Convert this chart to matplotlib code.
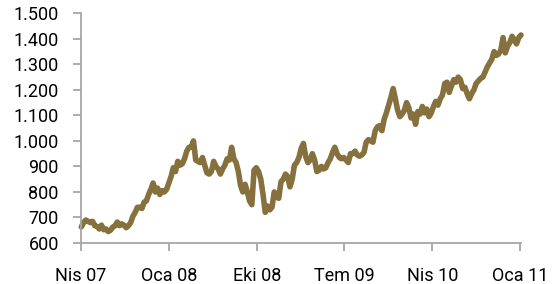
import matplotlib
matplotlib.use("Agg")
import matplotlib.dates as mdates
import matplotlib.pyplot as plt
import pandas as pd
from matplotlib.ticker import FuncFormatter, MultipleLocator

# weekly values (Monday)
gold_2007 = [663, 680, 690, 685, 680,
             685, 668, 665, 655,
             670, 652, 655, 645,
             650, 662, 667, 682, 668,
             675, 670, 660, 668,
             680, 705, 720, 740,
             740, 735, 760, 765, 790,
             810, 835, 800, 815,
             790, 805, 800, 810, 835]
gold_2008 = [860, 895, 880, 920,
             905, 910, 930, 960,
             975, 975, 1000, 925, 920,
             915, 935, 905, 875,
             870, 880, 920, 900,
             890, 870, 890, 905, 930,
             925, 975, 930, 915,
             880, 825, 800, 830,
             800, 765, 750, 885, 895,
             880, 850, 790, 720,
             745, 730, 740, 800,
             780, 775, 840, 850, 870]
gold_2009 = [860, 820, 850, 905,
             915, 935, 970, 990,
             940, 915, 925, 950, 925,
             880, 885, 900, 890,
             895, 915, 930, 955,
             975, 950, 935, 930, 935,
             925, 915, 950, 950,
             960, 945, 940, 945, 955,
             995, 1005, 1000, 995,
             1040, 1055, 1060, 1040,
             1085, 1110, 1140, 1170, 1205,
             1165, 1120, 1095, 1105]
gold_2010 = [1120, 1150, 1130, 1090,
             1105, 1065, 1115, 1105,
             1135, 1110, 1125, 1095, 1110,
             1135, 1155, 1140, 1165,
             1180, 1225, 1230, 1190, 1215,
             1240, 1230, 1250, 1240,
             1205, 1210, 1185, 1165,
             1185, 1200, 1225, 1235, 1245,
             1250, 1270, 1290, 1305,
             1320, 1350, 1335, 1340,
             1355, 1405, 1345, 1370, 1385,
             1410, 1395, 1380, 1405,
             1415]

gold = gold_2007 + gold_2008 + gold_2009 + gold_2010
dates = pd.date_range("2007-04-02", periods=len(gold), freq="7D")

tick_dates = pd.to_datetime(["2007-04-01", "2008-01-01", "2008-10-01",
                             "2009-07-01", "2010-04-01", "2011-01-01"])
tick_labels = ["Nis 07", "Oca 08", "Eki 08", "Tem 09", "Nis 10", "Oca 11"]

plt.rcParams["font.family"] = ["Roboto", "DejaVu Sans"]

fig = plt.figure(figsize=(5.53, 2.84), dpi=100)
ax = fig.add_axes([81 / 553, 1 - 243 / 284, 440 / 553, 229.7 / 284])

ax.plot(dates, gold, color="#85703e", lw=4.0, solid_joinstyle="round",
        solid_capstyle="round", clip_on=False)

ax.set_ylim(600, 1500)
ax.yaxis.set_major_locator(MultipleLocator(100))
ax.yaxis.set_major_formatter(FuncFormatter(lambda v, p: f"{v:,.0f}".replace(",", ".")))
ax.set_xlim(mdates.date2num(tick_dates[0]), mdates.date2num(pd.Timestamp("2011-01-03")))
ax.set_xticks(mdates.date2num(tick_dates))
ax.set_xticklabels(tick_labels)

for side in ["top", "right"]:
    ax.spines[side].set_visible(False)
for side in ["left", "bottom"]:
    ax.spines[side].set_color("#a6a6a6")
    ax.spines[side].set_linewidth(1.3)

ax.tick_params(axis="both", colors="#a6a6a6", width=1.3, length=5.5,
               labelcolor="black", labelsize=13)
ax.tick_params(axis="y", pad=10.5)
ax.tick_params(axis="x", pad=12)

fig.savefig("out.png", dpi=100)
plt.close(fig)
